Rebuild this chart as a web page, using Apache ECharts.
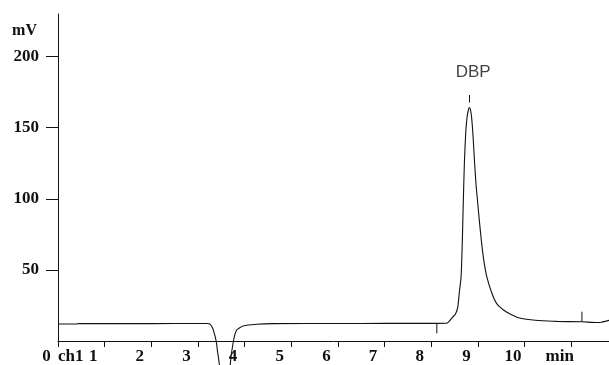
<!DOCTYPE html>
<html>
<head>
<meta charset="utf-8">
<script src="https://cdn.jsdelivr.net/npm/echarts@6/dist/echarts.min.js"></script>
<style>html,body{margin:0;padding:0;background:#fff;}#c{width:609px;height:365px;}</style>
</head>
<body>
<div id="c"></div>
<script>
// Chromatogram trace: [time (min), signal (mV)]
var trace = [
  [0, 12.0], [0.4, 12.0], [0.45, 12.2], [1.5, 12.2], [2.5, 12.3], [3.2, 12.3],
  [3.243, 12.2], [3.29, 10.5], [3.33, 7.7], [3.39, 0], [3.42, -7.5], [3.46, -17],
  [3.52, -40], [3.6, -60], [3.66, -38], [3.69, -17], [3.76, 0], [3.83, 7.7],
  [3.97, 10.6], [4.26, 11.8], [4.62, 12.2], [6, 12.3], [7, 12.4], [8.0, 12.4],
  [8.33, 12.5], [8.40, 14.5], [8.45, 16.5], [8.52, 19], [8.57, 24], [8.60, 33.6],
  [8.64, 45.3], [8.665, 68.8], [8.685, 95], [8.71, 125], [8.74, 147], [8.77, 158],
  [8.80, 163], [8.82, 164.2], [8.845, 162], [8.87, 155.6], [8.90, 142], [8.925, 127.5],
  [8.96, 110], [8.99, 99.3], [9.03, 85], [9.08, 68.8], [9.13, 56], [9.19, 45.3],
  [9.30, 33.6], [9.40, 26.5], [9.55, 21.8], [9.70, 18.8], [9.85, 16.6], [10.0, 15.5],
  [10.18, 14.8], [10.5, 14.1], [10.69, 13.8], [11.23, 13.5], [11.55, 13.0], [11.65, 13.2],
  [11.81, 14.5]
];
// Integration / peak markers: [time, from mV, to mV]
var markers = [[8.12, 12.4, 5.4], [8.82, 173, 167.8], [11.23, 20.6, 13.6]];
// Peak label: [time, mV, text]
var peakLabels = [[8.90, 189, 'DBP']];
var xTicks = [0, 1, 2, 3, 4, 5, 6, 7, 8, 9, 10, 11];
var xLabelText = {11: 'min'};
var yTicks = [50, 100, 150, 200];

var serif = '"Liberation Serif", "Times New Roman", serif';
var chart = echarts.init(document.getElementById('c'));
chart.setOption({
  animation: false,
  backgroundColor: '#fff',
  grid: {left: 58, right: 0, top: 14, bottom: 24, containLabel: false},
  xAxis: {
    type: 'value', min: 0, max: 11.81, interval: 1,
    axisLine: {show: true, lineStyle: {color: '#111', width: 1}},
    axisTick: {show: true, inside: false, length: 6, lineStyle: {color: '#111'}},
    splitLine: {show: false},
    axisLabel: {
      show: true, margin: 7, showMaxLabel: false,
      formatter: function (v) {
        var t = xLabelText[v] !== undefined ? xLabelText[v] : String(v);
        return '{a|' + t + '}';
      },
      rich: {a: {fontFamily: serif, fontWeight: 'bold', fontSize: 17, color: '#111', padding: [0, 23, 0, 0], lineHeight: 17}}
    }
  },
  yAxis: {
    type: 'value', min: 0, max: 230, interval: 50,
    name: 'mV', nameLocation: 'end', nameGap: -17,
    nameTextStyle: {fontFamily: serif, fontWeight: 'bold', fontSize: 16, color: '#111', align: 'right', verticalAlign: 'middle', padding: [0, 21, 0, 0]},
    axisLine: {show: true, lineStyle: {color: '#111', width: 1}},
    axisTick: {show: true, inside: false, length: 12, customValues: yTicks, lineStyle: {color: '#111'}},
    splitLine: {show: false},
    axisLabel: {show: true, margin: 19, customValues: yTicks, fontFamily: serif, fontWeight: 'bold', fontSize: 17, color: '#111'}
  },
  graphic: [{
    type: 'text', left: 58, top: 348, silent: true,
    style: {text: 'ch1', x: 0, y: 0, fill: '#111', font: 'bold 17px ' + serif}
  }],
  series: [
    {
      type: 'line', data: trace, showSymbol: false, clip: false,
      smooth: 0.2,
      lineStyle: {color: '#111', width: 1.1}
    },
    {
      type: 'custom', clip: false,
      data: markers,
      renderItem: function (params, api) {
        var p1 = api.coord([api.value(0), api.value(1)]);
        var p2 = api.coord([api.value(0), api.value(2)]);
        return {type: 'line', shape: {x1: p1[0], y1: p1[1], x2: p2[0], y2: p2[1]}, style: {stroke: '#111', lineWidth: 1}};
      }
    },
    {
      type: 'scatter', symbolSize: 0, data: peakLabels.map(function (d) { return {value: [d[0], d[1]], name: d[2]}; }),
      label: {show: true, position: 'inside', formatter: '{b}', fontFamily: '"Liberation Sans", Arial, sans-serif', fontSize: 17, color: '#111'}
    }
  ]
});
</script>
</body>
</html>
